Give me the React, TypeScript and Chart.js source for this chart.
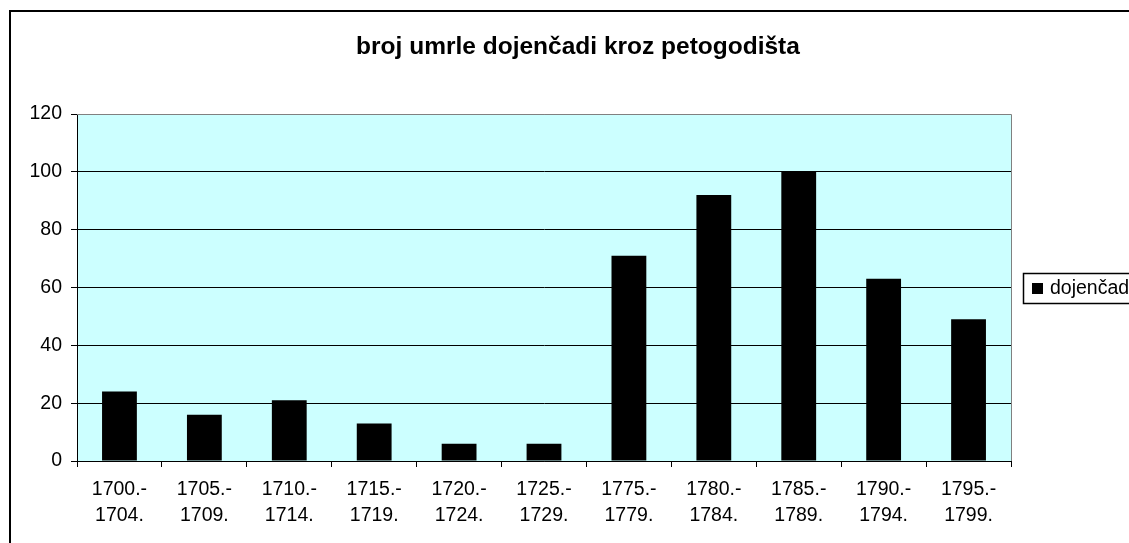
import React, { useEffect, useRef } from "react";
import { Chart, registerables } from "chart.js";

Chart.register(...registerables);

const TITLE = "broj umrle dojenčadi kroz petogodišta";
const SERIES_LABEL = "dojenčadi";
const categories: string[][] = [
  ["1700.-", "1704."],
  ["1705.-", "1709."],
  ["1710.-", "1714."],
  ["1715.-", "1719."],
  ["1720.-", "1724."],
  ["1725.-", "1729."],
  ["1775.-", "1779."],
  ["1780.-", "1784."],
  ["1785.-", "1789."],
  ["1790.-", "1794."],
  ["1795.-", "1799."],
];
const values: number[] = [24, 16, 21, 13, 6, 6, 71, 92, 100, 63, 49];
const yTicks: number[] = [0, 20, 40, 60, 80, 100, 120];

const FONT = "'Liberation Sans', Arial, sans-serif";

const framePlugin = {
  id: "frame",
  beforeDraw(chart: any) {
    const { ctx, chartArea: a, width, height } = chart;
    ctx.save();
    ctx.fillStyle = "#ffffff";
    ctx.fillRect(0, 0, width, height);
    ctx.lineWidth = 2;
    ctx.strokeStyle = "#000000";
    ctx.strokeRect(10, 11, width + 20, height + 20);
    ctx.fillStyle = "#CCFFFF";
    ctx.fillRect(a.left, a.top, a.right - a.left, a.bottom - a.top);
    ctx.restore();
  },
  afterDraw(chart: any) {
    const { ctx, chartArea: a } = chart;
    ctx.save();
    // plot border top & right
    ctx.strokeStyle = "#808080";
    ctx.lineWidth = 1;
    ctx.beginPath();
    ctx.moveTo(a.left, a.top + 0.5);
    ctx.lineTo(a.right + 0.5, a.top + 0.5);
    ctx.lineTo(a.right + 0.5, a.bottom);
    ctx.stroke();
    // title
    ctx.fillStyle = "#000";
    ctx.font = `bold 24.5px ${FONT}`;
    ctx.textAlign = "center";
    ctx.textBaseline = "alphabetic";
    ctx.fillText(TITLE, 578, 54);
    // legend
    ctx.strokeStyle = "#000";
    ctx.lineWidth = 1.5;
    ctx.strokeRect(1023.5, 273.5, 200, 30);
    ctx.fillRect(1032, 283, 11, 11);
    ctx.font = `19.5px ${FONT}`;
    ctx.textAlign = "left";
    ctx.textBaseline = "middle";
    ctx.fillText(chart.data.datasets[0].label, 1050, 289);
    ctx.restore();
  },
};

export default function App() {
  const ref = useRef<HTMLCanvasElement>(null);
  useEffect(() => {
    if (!ref.current) return;
    const chart = new Chart(ref.current, {
      type: "bar",
      data: {
        labels: categories,
        datasets: [
          {
            label: SERIES_LABEL,
            data: values,
            backgroundColor: "#000000",
            borderWidth: 0,
            barPercentage: 0.41,
            categoryPercentage: 1,
          },
        ],
      },
      plugins: [framePlugin],
      options: {
        animation: false,
        responsive: false,
        maintainAspectRatio: false,
        layout: { padding: { left: 0, top: 114, right: 118, bottom: 0 } },
        plugins: {
          legend: { display: false },
          title: { display: false },
          tooltip: { enabled: false },
        },
        scales: {
          x: {
            afterFit(scale: any) {
              scale.height = 82;
            },
            grid: {
              offset: true,
              drawOnChartArea: false,
              color: "#000",
              tickLength: 6,
            },
            border: { color: "#000", width: 1 },
            ticks: {
              color: "#000",
              font: { family: FONT, size: 19.5, lineHeight: 1.33 },
              padding: 10,
              maxRotation: 0,
              autoSkip: false,
            },
          },
          y: {
            min: 0,
            max: 120,
            afterFit(scale: any) {
              scale.width = 77;
            },
            afterBuildTicks(scale: any) {
              scale.ticks = yTicks.map((v) => ({ value: v }));
            },
            grid: {
              color: (c: any) => (c.tick && c.tick.value === 120 ? "#808080" : "#000"),
              tickColor: "#000",
              tickLength: 6,
              lineWidth: 1,
            },
            border: { color: "#000", width: 1 },
            ticks: {
              color: "#000",
              font: { family: FONT, size: 19.5 },
              padding: 9,
            },
          },
        },
      },
    });
    return () => chart.destroy();
  }, []);
  return (
    <div style={{ position: "absolute", left: 0, top: 0, width: 1129, height: 543, overflow: "hidden" }}>
      <canvas ref={ref} width={1129} height={543} style={{ display: "block" }} />
    </div>
  );
}
